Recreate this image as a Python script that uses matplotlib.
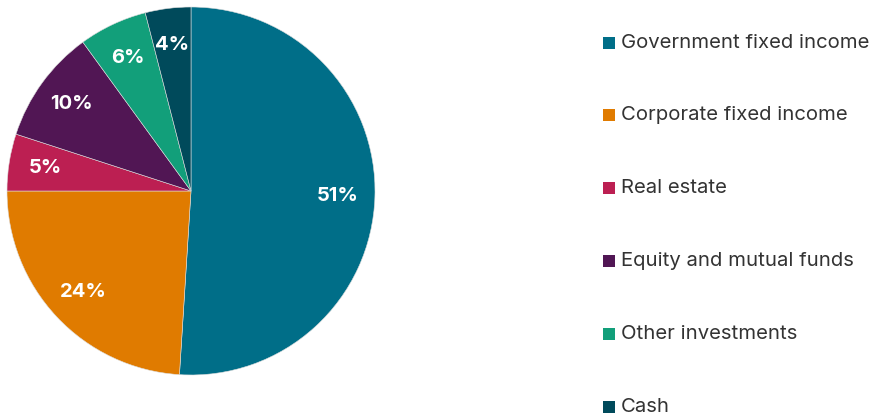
import matplotlib.pyplot as plt
from matplotlib.patches import Rectangle

categories = ["Government fixed income", "Corporate fixed income", "Real estate",
              "Equity and mutual funds", "Other investments", "Cash"]
shares = [51, 24, 5, 10, 6, 4]
colors = ["#006e88", "#e07b00", "#bc1f52", "#511654", "#129f7a", "#004a5b"]

plt.rcParams['font.family'] = ['Inter', 'DejaVu Sans']

W, H = 870, 420
fig = plt.figure(figsize=(W / 100, H / 100), dpi=100)
ax = fig.add_axes([7 / W, 45 / H, 368 / W, 368 / H])

wedges, texts, autotexts = ax.pie(
    shares, colors=colors, startangle=90, counterclock=False,
    autopct=lambda p: f"{p:.0f}%", pctdistance=0.8,
    wedgeprops=dict(linewidth=0.4, edgecolor="#dddddd"),
    textprops=dict(color="white", fontsize=14.5, fontweight="bold"))
ax.set_aspect("equal")
ax.set_xlim(-1, 1)
ax.set_ylim(-1, 1)

# legend drawn by hand to match the wide row spacing
y0, step = 42.5, 72.8
for i, (name, c) in enumerate(zip(categories, colors)):
    yc = y0 + i * step
    fig.patches.append(Rectangle((603 / W, 1 - (yc + 6) / H), 12 / W, 12 / H,
                                 transform=fig.transFigure, facecolor=c,
                                 edgecolor="none"))
    fig.text(621 / W, 1 - yc / H, name, ha="left", va="center",
             fontsize=14.6, color="#333333")

fig.savefig("out.png", dpi=100)
